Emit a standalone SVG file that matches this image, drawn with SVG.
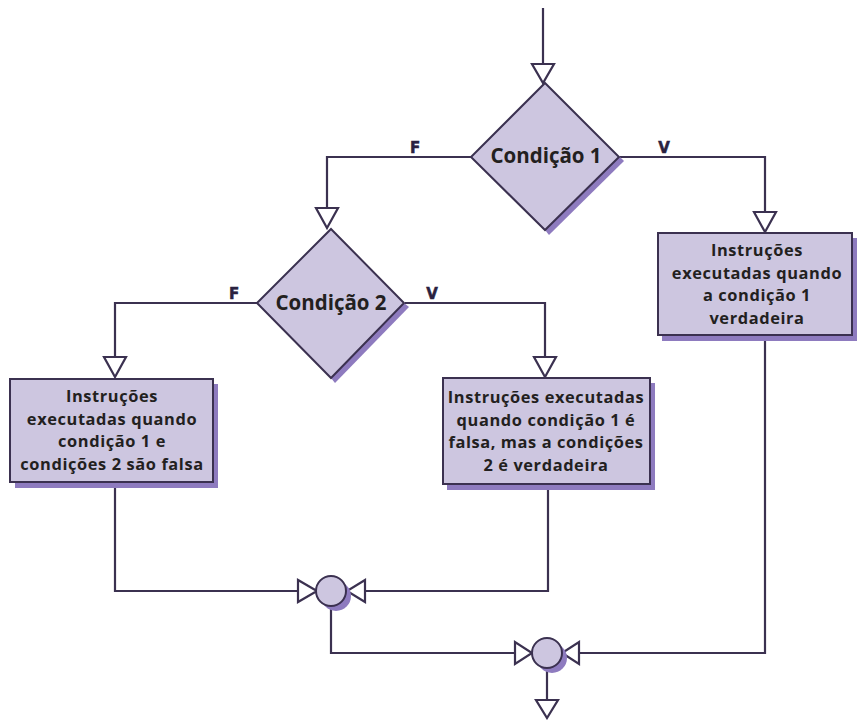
<svg xmlns="http://www.w3.org/2000/svg" width="857" height="720" viewBox="0 0 857 720">
  <defs>
    <style>
      .line { fill: none; stroke: #3b3150; stroke-width: 2.2; }
      .head { fill: #ffffff; stroke: #3b3150; stroke-width: 2.2; stroke-linejoin: miter; }
      .shape { fill: #cdc6e0; stroke: #3b3150; stroke-width: 2; }
      .shadow { fill: #8e7bbf; stroke: none; }
      .label { font-family: "Open Sans", "DejaVu Sans", sans-serif; font-weight: 700; fill: #231f20; text-anchor: middle; }
      .cond { font-size: 20.5px; }
      .box { font-size: 16.4px; letter-spacing: 0.6px; }
      .fv { font-family: "DejaVu Sans", "Liberation Sans", sans-serif; font-weight: 700; font-size: 15px; fill: #2a2240; stroke: #2a2240; stroke-width: 0.5; text-anchor: middle; }
    </style>
  </defs>

  <rect width="857" height="720" fill="#ffffff"/>

  <!-- connectors -->
  <g id="connectors">
    <!-- entry -->
    <line class="line" x1="543" y1="8" x2="543" y2="64"/>
    <polygon class="head" points="532,64 554,64 543,83"/>
    <!-- condition 1, false branch -->
    <polyline class="line" points="471,157 327,157 327,208"/>
    <polygon class="head" points="316,208 338,208 327,228"/>
    <!-- condition 1, true branch -->
    <polyline class="line" points="620,157 765,157 765,212"/>
    <polygon class="head" points="754,212 776,212 765,232"/>
    <!-- condition 2, false branch -->
    <polyline class="line" points="257,303 115,303 115,357"/>
    <polygon class="head" points="104,357 126,357 115,377"/>
    <!-- condition 2, true branch -->
    <polyline class="line" points="405,303 545,303 545,357"/>
    <polygon class="head" points="534,357 556,357 545,377"/>
    <!-- box 1 to junction 1 -->
    <polyline class="line" points="115,482 115,591 298,591"/>
    <polygon class="head" points="298,580 298,602 317,591"/>
    <!-- box 2 to junction 1 -->
    <polyline class="line" points="548,484 548,591 365,591"/>
    <polygon class="head" points="365,580 365,602 347,591"/>
    <!-- junction 1 to junction 2 -->
    <polyline class="line" points="331,606 331,653 515,653"/>
    <polygon class="head" points="515,642 515,664 532,653"/>
    <!-- box 3 to junction 2 -->
    <polyline class="line" points="765,335 765,653 579,653"/>
    <polygon class="head" points="579,642 579,664 562,653"/>
    <!-- exit -->
    <line class="line" x1="547" y1="668" x2="547" y2="700"/>
    <polygon class="head" points="536,700 558,700 547,718"/>
  </g>

  <!-- decision: Condição 1 -->
  <g id="cond1">
    <polygon class="shadow" points="624,161 549,235 545,230 619,156"/>
    <polygon class="shape" points="545,83 619,157 545,230 471,157"/>
    <text class="label cond" x="546" y="163">Condição 1</text>
  </g>
  <text class="fv" x="415" y="153">F</text>
  <text class="fv" x="664" y="153">V</text>

  <!-- decision: Condição 2 -->
  <g id="cond2">
    <polygon class="shadow" points="409,307 335,383 331,378 404,303"/>
    <polygon class="shape" points="331,229 404,303 331,378 257,303"/>
    <text class="label cond" x="331" y="310">Condição 2</text>
  </g>
  <text class="fv" x="234" y="299">F</text>
  <text class="fv" x="432" y="299">V</text>

  <!-- process: true branch of condition 1 -->
  <g id="box3">
    <rect class="shadow" x="662" y="238" width="195" height="103"/>
    <rect class="shape" x="658" y="233" width="194" height="102"/>
    <text class="label box" x="757" y="256">Instruções</text>
    <text class="label box" x="757" y="278.5">executadas quando</text>
    <text class="label box" x="757" y="301">a condição 1</text>
    <text class="label box" x="757" y="323.5">verdadeira</text>
  </g>

  <!-- process: both conditions false -->
  <g id="box1">
    <rect class="shadow" x="15" y="384" width="203" height="104"/>
    <rect class="shape" x="10" y="379" width="203" height="103"/>
    <text class="label box" x="112" y="402">Instruções</text>
    <text class="label box" x="112" y="424.5">executadas quando</text>
    <text class="label box" x="112" y="447">condição 1 e</text>
    <text class="label box" x="112" y="469.5">condições 2 são falsa</text>
  </g>

  <!-- process: condition 1 false, condition 2 true -->
  <g id="box2">
    <rect class="shadow" x="447" y="383" width="208" height="107"/>
    <rect class="shape" x="443" y="378" width="207" height="106"/>
    <text class="label box" x="546" y="403">Instruções executadas</text>
    <text class="label box" x="546" y="425.5">quando condição 1 é</text>
    <text class="label box" x="546" y="448">falsa, mas a condições</text>
    <text class="label box" x="546" y="470.5">2 é verdadeira</text>
  </g>

  <!-- junction points -->
  <g id="join1">
    <circle class="shadow" cx="336" cy="596" r="15"/>
    <circle class="shape" cx="331" cy="591" r="15"/>
  </g>
  <g id="join2">
    <circle class="shadow" cx="552" cy="658" r="15"/>
    <circle class="shape" cx="547" cy="653" r="15"/>
  </g>
</svg>
